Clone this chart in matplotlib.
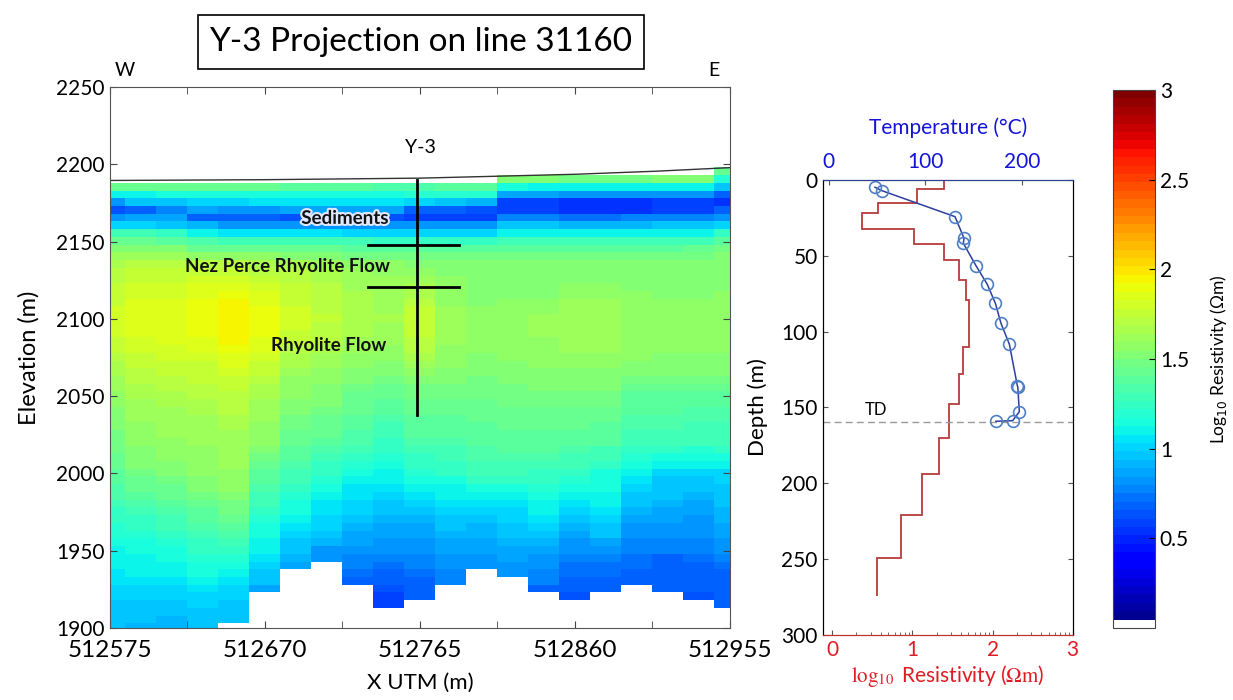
# Y-3 projection on line 31160: resistivity section + borehole logs
import numpy as np
import matplotlib
matplotlib.use('Agg')
import matplotlib.pyplot as plt
import matplotlib.patheffects as pe
from matplotlib.colors import ListedColormap, Normalize
from matplotlib.ticker import FixedLocator

plt.rcParams['font.family'] = ['Lato', 'DejaVu Sans']

# ---- section data -------------------------------------------------------
col_x = [512575, 512594, 512613, 512632, 512651, 512670, 512689, 512708,
         512727, 512746, 512765, 512784, 512803, 512822, 512841, 512860,
         512879, 512898, 512917, 512936, 512955]
row_bottom = 1898   # lowest cell edge (m)
row_h = 5           # cell height (m)

# log10 resistivity x100, top row (2193-2198 m) first, 0 = no data
log_res_rows = [
    [0, 0, 0, 0, 0, 0, 0, 0, 0, 0, 0, 0, 0, 0, 0, 0, 0, 0, 0, 0, 145],
    [0, 0, 0, 0, 0, 0, 0, 0, 0, 0, 0, 0, 0, 150, 150, 148, 148, 148, 150, 150, 120],
    [145, 145, 145, 145, 143, 142, 140, 138, 136, 135, 132, 138, 138, 114, 112, 112, 112, 112, 110, 110, 94],
    [112, 112, 113, 115, 115, 115, 116, 116, 116, 116, 118, 120, 118, 88, 86, 84, 84, 84, 80, 80, 66],
    [84, 95, 96, 100, 103, 104, 106, 106, 107, 107, 100, 94, 92, 60, 59, 56, 56, 56, 58, 58, 55],
    [64, 70, 78, 86, 80, 80, 88, 88, 88, 88, 70, 66, 64, 58, 57, 56, 56, 56, 58, 60, 66],
    [84, 89, 89, 66, 66, 66, 62, 62, 62, 62, 60, 60, 60, 75, 75, 74, 74, 75, 76, 78, 84],
    [103, 103, 96, 92, 82, 82, 84, 84, 84, 82, 80, 80, 80, 94, 94, 92, 92, 93, 94, 95, 103],
    [128, 128, 126, 110, 106, 106, 104, 104, 103, 103, 103, 103, 103, 108, 108, 108, 108, 108, 110, 112, 125],
    [142, 142, 140, 134, 130, 130, 130, 130, 128, 126, 122, 122, 122, 128, 128, 128, 128, 128, 128, 130, 140],
    [152, 152, 152, 145, 145, 145, 145, 143, 140, 138, 138, 140, 138, 140, 140, 140, 140, 140, 140, 142, 148],
    [160, 160, 160, 155, 155, 155, 153, 150, 148, 146, 146, 148, 146, 148, 148, 148, 148, 148, 148, 149, 152],
    [166, 170, 172, 172, 172, 168, 166, 163, 158, 155, 152, 152, 150, 151, 151, 151, 151, 151, 150, 151, 153],
    [170, 174, 175, 176, 177, 172, 169, 165, 160, 157, 156, 153, 151, 152, 152, 153, 153, 152, 151, 151, 153],
    [172, 177, 178, 180, 182, 178, 173, 168, 163, 160, 162, 155, 152, 152, 152, 154, 154, 153, 152, 152, 153],
    [174, 179, 180, 183, 186, 181, 175, 169, 164, 161, 165, 156, 152, 153, 153, 156, 156, 154, 153, 153, 154],
    [176, 181, 182, 185, 190, 183, 176, 170, 165, 162, 167, 157, 153, 154, 154, 158, 158, 155, 154, 154, 155],
    [178, 183, 185, 188, 193, 186, 178, 172, 166, 163, 170, 158, 154, 155, 156, 160, 160, 157, 156, 156, 156],
    [179, 184, 186, 189, 195, 188, 179, 173, 167, 164, 174, 160, 155, 156, 158, 162, 162, 157, 156, 156, 156],
    [180, 185, 187, 190, 196, 189, 180, 174, 168, 165, 177, 162, 157, 158, 160, 163, 164, 158, 157, 157, 157],
    [180, 185, 187, 190, 196, 189, 179, 173, 167, 164, 176, 162, 157, 158, 160, 163, 164, 158, 157, 157, 157],
    [179, 184, 186, 189, 195, 188, 178, 172, 166, 163, 174, 161, 157, 158, 160, 163, 164, 158, 157, 157, 157],
    [177, 182, 184, 187, 194, 186, 175, 170, 163, 161, 172, 160, 157, 158, 159, 162, 163, 157, 156, 156, 156],
    [174, 180, 182, 184, 191, 183, 172, 167, 160, 159, 169, 158, 156, 157, 158, 160, 160, 156, 155, 155, 155],
    [171, 177, 179, 181, 187, 179, 168, 164, 157, 156, 166, 156, 154, 155, 156, 158, 158, 155, 154, 153, 153],
    [168, 175, 177, 178, 184, 176, 165, 162, 155, 154, 163, 155, 153, 154, 155, 156, 156, 154, 153, 152, 152],
    [165, 172, 174, 176, 181, 174, 162, 159, 152, 151, 158, 153, 151, 153, 154, 154, 154, 151, 150, 150, 150],
    [162, 170, 172, 174, 178, 171, 159, 157, 150, 148, 153, 151, 149, 151, 152, 152, 152, 147, 146, 146, 146],
    [160, 168, 170, 172, 175, 168, 157, 154, 147, 145, 149, 148, 148, 149, 150, 150, 150, 143, 143, 143, 143],
    [158, 166, 168, 170, 173, 166, 155, 152, 145, 142, 146, 146, 146, 148, 149, 149, 148, 140, 140, 140, 140],
    [156, 164, 166, 168, 171, 164, 153, 150, 143, 139, 144, 144, 144, 146, 147, 147, 146, 138, 138, 138, 138],
    [154, 162, 164, 166, 169, 162, 151, 148, 141, 137, 142, 142, 143, 145, 145, 145, 144, 136, 136, 135, 135],
    [152, 160, 162, 164, 166, 160, 148, 145, 139, 134, 140, 140, 141, 143, 143, 143, 142, 134, 134, 133, 133],
    [150, 159, 161, 163, 165, 158, 146, 143, 137, 131, 138, 138, 140, 141, 141, 141, 140, 132, 132, 131, 131],
    [149, 158, 160, 162, 164, 157, 144, 141, 134, 128, 136, 136, 138, 140, 140, 139, 138, 130, 130, 129, 130],
    [147, 156, 158, 160, 162, 155, 142, 138, 132, 125, 134, 134, 137, 138, 138, 137, 136, 128, 128, 127, 128],
    [146, 154, 156, 159, 161, 152, 139, 134, 128, 122, 130, 131, 135, 136, 136, 134, 131, 123, 122, 120, 122],
    [144, 152, 155, 158, 160, 149, 136, 130, 124, 119, 126, 128, 132, 133, 133, 131, 127, 118, 116, 114, 116],
    [142, 150, 153, 157, 160, 145, 133, 126, 120, 116, 122, 125, 130, 131, 131, 128, 124, 113, 110, 108, 110],
    [140, 148, 152, 156, 159, 140, 130, 122, 115, 112, 118, 122, 128, 128, 125, 123, 115, 108, 101, 99, 103],
    [137, 145, 148, 153, 157, 137, 127, 118, 111, 108, 113, 117, 122, 122, 122, 119, 114, 104, 98, 96, 100],
    [135, 141, 145, 150, 155, 134, 123, 114, 107, 104, 108, 112, 115, 116, 118, 114, 113, 101, 96, 94, 98],
    [132, 138, 142, 147, 152, 131, 120, 110, 104, 100, 104, 108, 110, 112, 115, 110, 112, 98, 94, 92, 96],
    [129, 133, 138, 143, 149, 127, 116, 107, 101, 97, 99, 104, 104, 107, 111, 106, 108, 95, 91, 89, 94],
    [126, 128, 134, 140, 146, 123, 113, 104, 99, 94, 94, 101, 99, 103, 108, 103, 104, 92, 89, 86, 92],
    [123, 125, 130, 136, 141, 120, 109, 101, 95, 91, 91, 98, 96, 100, 104, 97, 101, 88, 86, 84, 90],
    [121, 122, 127, 133, 137, 117, 106, 99, 91, 88, 88, 94, 93, 97, 100, 92, 97, 84, 83, 82, 88],
    [118, 120, 124, 130, 134, 114, 102, 96, 88, 86, 86, 91, 91, 94, 96, 87, 94, 80, 80, 80, 86],
    [115, 117, 120, 126, 128, 111, 98, 90, 85, 83, 84, 88, 88, 91, 92, 84, 88, 78, 78, 78, 83],
    [112, 115, 117, 123, 123, 108, 94, 84, 82, 80, 82, 86, 86, 88, 87, 80, 82, 76, 75, 76, 80],
    [110, 112, 114, 120, 119, 104, 91, 82, 78, 77, 78, 83, 83, 85, 84, 75, 78, 74, 70, 72, 77],
    [108, 110, 112, 117, 115, 100, 88, 0, 75, 74, 75, 80, 80, 82, 80, 73, 74, 71, 69, 70, 72],
    [106, 108, 110, 114, 111, 97, 0, 0, 72, 70, 72, 78, 0, 80, 77, 71, 72, 70, 68, 69, 70],
    [104, 105, 106, 110, 106, 94, 0, 0, 70, 66, 70, 76, 0, 0, 75, 69, 70, 70, 67, 68, 69],
    [102, 102, 103, 106, 103, 89, 0, 0, 0, 62, 68, 0, 0, 0, 70, 66, 68, 0, 66, 66, 68],
    [100, 99, 100, 102, 100, 0, 0, 0, 0, 59, 66, 0, 0, 0, 0, 63, 0, 0, 0, 64, 67],
    [98, 97, 98, 99, 98, 0, 0, 0, 0, 58, 0, 0, 0, 0, 0, 0, 0, 0, 0, 0, 66],
    [97, 95, 95, 96, 96, 0, 0, 0, 0, 0, 0, 0, 0, 0, 0, 0, 0, 0, 0, 0, 0],
    [96, 94, 93, 95, 96, 0, 0, 0, 0, 0, 0, 0, 0, 0, 0, 0, 0, 0, 0, 0, 0],
    [95, 93, 92, 94, 0, 0, 0, 0, 0, 0, 0, 0, 0, 0, 0, 0, 0, 0, 0, 0, 0],
]

surf_x = [512575, 512670, 512765, 512860, 512910, 512955]
surf_z = [2189.5, 2190, 2191, 2193.5, 2195.5, 2197.8]

well_x = 512763
well_top, well_bottom = 2190, 2038
contacts = [2147.5, 2120.5]

# ---- borehole logs ------------------------------------------------------
res_depth = [0, 6, 15, 22, 32, 42, 53, 66, 79, 110, 128, 148, 170, 194, 221, 249, 274]
res_log = [1.40, 1.06, 0.57, 0.37, 1.02, 1.39, 1.58, 1.67, 1.70, 1.63, 1.58,
           1.46, 1.33, 1.12, 0.86, 0.56]

temp_c = [47.7, 54.6, 130.6, 139.9, 139.2, 152.3, 164.0, 172.4, 178.2, 186.9,
          195.2, 195.6, 197.2, 190.3, 173.0]
temp_depth = [4.8, 7.0, 24.2, 38.4, 41.7, 56.5, 68.8, 81.3, 94.5, 108.3,
              135.8, 136.2, 152.8, 158.7, 159.1]
td_depth = 159.8

# colormap: jet(64) with the lowest slot white (MATLAB style)
jet64 = plt.get_cmap('jet')(np.linspace(0, 1, 64))
jet64[0] = [1, 1, 1, 1]
cmap = ListedColormap(jet64)
cmap.set_bad((1, 1, 1, 0))
norm = Normalize(0, 3)

fig = plt.figure(figsize=(12.33, 7.0), dpi=100)

# ---- section ------------------------------------------------------------
ax = fig.add_axes([0.0892, 0.1029, 0.5028, 0.7729])
grid = np.array(log_res_rows[::-1], dtype=float) / 100.0
grid = np.ma.masked_less_equal(grid, 0)
cx = np.array(col_x, dtype=float)
x_edges = np.r_[cx - 9.5, cx[-1] + 9.5]
z_edges = row_bottom + row_h * np.arange(grid.shape[0] + 1)
mesh = ax.pcolormesh(x_edges, z_edges, grid, cmap=cmap, norm=norm)

ax.plot(surf_x, surf_z, color='#333333', lw=1)
ax.plot([well_x, well_x], [well_top, well_bottom], color='k', lw=2)
for c in contacts:
    ax.plot([well_x - 30, well_x + 26], [c, c], color='k', lw=2)

ax.text(512765, 2211, 'Y-3', ha='center', va='center', fontsize=14)
ax.text(512719, 2165, 'Sediments', ha='center', va='center', fontsize=13.5,
        fontweight='bold', color='#111111',
        path_effects=[pe.withStroke(linewidth=3, foreground='#dfe8ff')])
ax.text(512684, 2133.8, 'Nez Perce Rhyolite Flow', ha='center', va='center',
        fontsize=13.5, fontweight='bold', color='#111111')
ax.text(512709, 2083, 'Rhyolite Flow', ha='center', va='center',
        fontsize=13.5, fontweight='bold', color='#111111')

ax.set_xlim(512575, 512955)
ax.set_ylim(1900, 2250)
ax.set_xticks([512575, 512670, 512765, 512860, 512955])
ax.xaxis.set_minor_locator(FixedLocator([512622.5, 512717.5, 512812.5, 512907.5]))
ax.set_yticks(np.arange(1900, 2251, 50))
ax.tick_params(which='both', direction='in', top=True, right=True, length=5,
               color='#444444')
ax.tick_params(axis='x', labelsize=17.5, pad=9)
ax.tick_params(axis='y', labelsize=15, pad=4)
ax.set_xlabel('X UTM (m)', fontsize=16, labelpad=8)
ax.set_ylabel('Elevation (m)', fontsize=17, labelpad=12)
for s in ax.spines.values():
    s.set_color('#555555')

fig.text(421 / 1233, 1 - 42 / 700, 'Y-3 Projection on line 31160', ha='center',
         va='center', fontsize=24,
         bbox=dict(boxstyle='square,pad=0.35', fc='white', ec='black', lw=1.2))
fig.text(125 / 1233, 1 - 70 / 700, 'W', ha='center', va='center', fontsize=14)
fig.text(714 / 1233, 1 - 70 / 700, 'E', ha='center', va='center', fontsize=14)

# ---- logs panel ---------------------------------------------------------
red = '#e01b24'
blue = '#1414d8'
ax_r = fig.add_axes([0.6672, 0.0929, 0.2028, 0.65])
ax_r.stairs(res_log, res_depth, orientation='horizontal', baseline=None,
            color='#b83a3c', lw=1.3)
ax_r.axhline(td_depth, color='#9a9a9a', ls=(0, (5, 3)), lw=1)
ax_r.text(0.55, 151.6, 'TD', ha='center', va='center', fontsize=12)
ax_r.set_xlim(-0.12, 3)
ax_r.set_ylim(300, 0)
ax_r.set_xticks([0, 1, 2, 3])
minor_r = [k + np.log10(m) for k in range(3) for m in range(2, 10)]
ax_r.xaxis.set_minor_locator(FixedLocator(minor_r))
ax_r.set_yticks(np.arange(0, 301, 50))
ax_r.tick_params(which='both', direction='in', top=True, right=True,
                 color='#555555')
ax_r.tick_params(which='minor', length=2.5)
ax_r.tick_params(axis='x', labelcolor=red, labelsize=15)
ax_r.tick_params(axis='y', labelsize=15)
ax_r.set_xlabel(r'$\log_{10}$ Resistivity ($\Omega\mathrm{m}$)', color=red,
                fontsize=15, math_fontfamily='stix', labelpad=2)
ax_r.set_ylabel('Depth (m)', fontsize=16, labelpad=10)
ax_r.spines['bottom'].set_color('#c03030')

ax_t = ax_r.twiny()
ax_t.plot(temp_c, temp_depth, '-o', color='#2b3f9e', mfc='none', mec='#4f7fc4',
          ms=8.5, mew=1.2, lw=1.1)
ax_t.set_xlim(-6.5, 252.5)
ax_t.set_xticks([0, 100, 200])
ax_t.tick_params(axis='x', direction='in', labelcolor=blue, labelsize=15,
                 color='#555555', pad=6)
ax_t.set_xlabel('Temperature (°C)', color=blue, fontsize=15, labelpad=13)
ax_t.spines['top'].set_color('#2b3f9e')
ax_t.spines['bottom'].set_color('#c03030')

# ---- colorbar -----------------------------------------------------------
cax = fig.add_axes([0.9027, 0.1029, 0.034, 0.7686])
cb = fig.colorbar(mesh, cax=cax)
cb.set_ticks([0.5, 1, 1.5, 2, 2.5, 3])
cb.set_ticklabels(['0.5', '1', '1.5', '2', '2.5', '3'])
cb.ax.tick_params(labelsize=15, direction='in', length=4)
cb.outline.set_edgecolor('#444444')
cb.set_label('Log$_{10}$ Resistivity (Ωm)', fontsize=12.5, labelpad=14)

fig.savefig('out.png', dpi=100)
